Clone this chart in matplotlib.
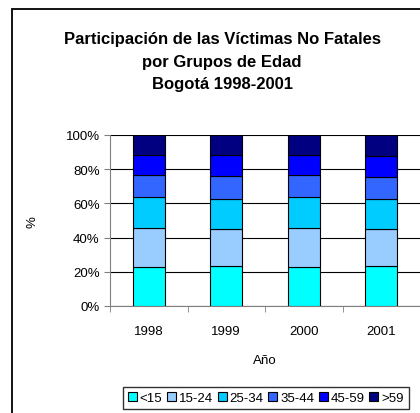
import numpy as np
import matplotlib
matplotlib.use("Agg")
from matplotlib import pyplot as plt
from matplotlib.patches import Rectangle
from matplotlib.ticker import FixedLocator, PercentFormatter

years = ["1998", "1999", "2000", "2001"]
groups = ["<15", "15-24", "25-34", "35-44", "45-59", ">59"]
colors = ["#00FFFF", "#99CCFF", "#00CCFF", "#3366FF", "#0000FF", "#000080"]

# porcentaje por grupo de edad
p_lt15 = [22.8, 23.5, 22.8, 23.5]
p_15_24 = [22.7, 21.4, 22.7, 21.4]
p_25_34 = [18.1, 17.9, 18.1, 17.4]
p_35_44 = [13.2, 13.3, 13.2, 13.0]
p_45_59 = [11.7, 12.4, 11.7, 12.6]
p_gt59 = [11.5, 11.5, 11.5, 12.1]
series = [p_lt15, p_15_24, p_25_34, p_35_44, p_45_59, p_gt59]

plt.rcParams['font.family'] = ['Liberation Sans', 'DejaVu Sans']

fig = plt.figure(figsize=(4.2, 4.14), dpi=100)
ax = fig.add_axes([110/420, 1-307/414, 310/420, (307-136)/414])

x = np.arange(len(years))
bottom = np.zeros(len(years))
bars = []
for vals, c, g in zip(series, colors, groups):
    b = ax.bar(x, vals, 0.41, bottom=bottom, color=c, edgecolor="black", linewidth=0.8, label=g, zorder=3)
    bars.append(b)
    bottom += np.array(vals)

ax.set_xlim(-0.5, 3.5)
ax.set_ylim(0, 100)
ax.set_yticks([0, 20, 40, 60, 80, 100])
ax.yaxis.set_major_formatter(PercentFormatter(decimals=0))
ax.yaxis.grid(True, color="black", linewidth=0.8, zorder=0)
ax.set_xticks(x)
ax.set_xticklabels(years)
ax.xaxis.set_minor_locator(FixedLocator([-0.5, 0.5, 1.5, 2.5, 3.5]))
ax.tick_params(axis="x", which="major", length=0, pad=14, labelsize=9.5)
ax.tick_params(axis="x", which="minor", length=4, color="gray", direction="out")
ax.tick_params(axis="y", length=4, color="gray", labelsize=9.5)
for s in ["top", "right"]:
    ax.spines[s].set_visible(False)
ax.spines["left"].set_color("gray")
ax.spines["bottom"].set_color("gray")
ax.set_xlabel("Año", fontsize=9.5, labelpad=12)

fig.text(33/420, 1-222/414, "%", rotation=90, ha="center", va="center", fontsize=9.5)

fig.text(222/420, 1-62/414, "Participación de las Víctimas No Fatales\npor Grupos de Edad\nBogotá 1998-2001",
         ha="center", va="center", fontsize=12, fontweight="bold", linespacing=1.65)

fig.legend(handles=bars, labels=groups, loc="upper left", bbox_to_anchor=(116/420, 1-381/414),
           ncol=6, fontsize=9.5, handlelength=0.7, handleheight=0.7, handletextpad=0.2,
           columnspacing=0.35, frameon=True, fancybox=False, edgecolor="black", borderpad=0.4)

fig.patches.append(Rectangle((12/420, -0.1), 1.1, 1-10/414+0.1, transform=fig.transFigure,
                             fill=False, edgecolor="black", linewidth=1.3))

fig.savefig("out.png", dpi=100)
